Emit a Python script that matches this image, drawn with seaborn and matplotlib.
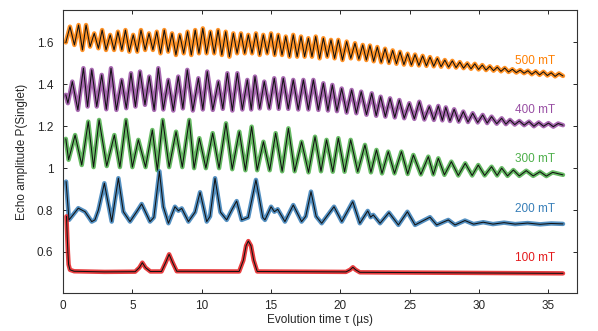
import matplotlib
matplotlib.use("Agg")
import matplotlib.pyplot as plt
import matplotlib.ticker as mticker
import seaborn as sns
import pandas as pd

# Extrema (time in us, echo amplitude)
t_500 = [0.2, 0.5, 0.82, 1.12, 1.4, 1.66, 1.95, 2.25, 2.55, 2.82, 3.1, 3.4, 3.68, 3.96, 4.24, 4.5,
         4.78, 5.06, 5.35, 5.62, 5.92, 6.2, 6.48, 6.76, 7.03, 7.3, 7.58, 7.86, 8.14, 8.42, 8.7, 8.98,
         9.25, 9.53, 9.8, 10.08, 10.35, 10.63, 10.9, 11.18, 11.45, 11.73, 12.0, 12.28, 12.55, 12.83,
         13.1, 13.36, 13.63, 13.91, 14.18, 14.44, 14.72, 15.0, 15.26, 15.52, 15.79, 16.06, 16.33,
         16.6, 16.88, 17.16, 17.42, 17.69, 17.95, 18.22, 18.5, 18.77, 19.05, 19.32, 19.58, 19.85,
         20.15, 20.45, 20.75, 21.05, 21.33, 21.61, 21.87, 22.13, 22.4, 22.66, 22.94, 23.22, 23.5,
         23.77, 24.04, 24.3, 24.58, 24.85, 25.12, 25.38, 25.66, 25.93, 26.2, 26.46, 26.73, 26.99,
         27.26, 27.53, 27.8, 28.07, 28.34, 28.61, 28.88, 29.15, 29.42, 29.69, 29.96, 30.23, 30.5,
         30.77, 31.04, 31.31, 31.58, 31.85, 32.12, 32.4, 32.68, 32.96, 33.24, 33.52, 33.8, 34.08,
         34.36, 34.64, 34.92, 35.2, 35.48, 35.76, 36.05]
p_500 = [1.600, 1.675, 1.588, 1.683, 1.564, 1.683, 1.580, 1.643, 1.572, 1.659, 1.564, 1.636, 1.564,
         1.651, 1.564, 1.659, 1.556, 1.636, 1.556, 1.659, 1.564, 1.643, 1.564, 1.651, 1.548, 1.659,
         1.556, 1.643, 1.540, 1.636, 1.548, 1.651, 1.540, 1.659, 1.548, 1.667, 1.548, 1.651, 1.548,
         1.659, 1.540, 1.651, 1.532, 1.643, 1.548, 1.643, 1.548, 1.636, 1.548, 1.643, 1.540, 1.636,
         1.548, 1.643, 1.540, 1.636, 1.540, 1.628, 1.532, 1.636, 1.532, 1.628, 1.532, 1.620, 1.532,
         1.628, 1.524, 1.620, 1.532, 1.612, 1.524, 1.612, 1.516, 1.604, 1.524, 1.596, 1.520, 1.588,
         1.516, 1.585, 1.510, 1.578, 1.505, 1.570, 1.502, 1.562, 1.498, 1.555, 1.494, 1.546, 1.492,
         1.542, 1.490, 1.536, 1.488, 1.530, 1.486, 1.524, 1.484, 1.516, 1.482, 1.512, 1.480, 1.506,
         1.477, 1.500, 1.474, 1.498, 1.471, 1.492, 1.468, 1.486, 1.465, 1.482, 1.462, 1.478, 1.459,
         1.472, 1.456, 1.468, 1.453, 1.465, 1.448, 1.462, 1.445, 1.460, 1.442, 1.455, 1.438, 1.452,
         1.440]

t_400 = [0.2, 0.35, 0.67, 1.07, 1.47, 1.77, 2.07, 2.43, 2.79, 3.12, 3.46, 3.85, 4.23, 4.56, 4.9,
         5.22, 5.55, 5.91, 6.22, 6.57, 6.87, 7.23, 7.59, 7.95, 8.31, 8.64, 8.96, 9.36, 9.76, 10.08,
         10.4, 10.8, 11.2, 11.52, 11.85, 12.21, 12.57, 12.93, 13.29, 13.57, 13.84, 14.18, 14.51,
         14.87, 15.23, 15.55, 15.88, 16.24, 16.6, 16.96, 17.33, 17.69, 18.05, 18.41, 18.77, 19.1,
         19.42, 19.75, 20.09, 20.45, 20.81, 21.15, 21.5, 21.88, 22.26, 22.58, 22.9, 23.24, 23.58,
         23.92, 24.25, 24.6, 24.97, 25.33, 25.69, 26.05, 26.41, 26.74, 27.06, 27.35, 27.6, 27.9,
         28.2, 28.53, 28.86, 29.2, 29.54, 29.9, 30.26, 30.58, 30.9, 31.27, 31.63, 31.93, 32.23,
         32.57, 32.9, 33.25, 33.6, 33.95, 34.3, 34.65, 35.0, 35.35, 35.7, 36.05]
p_400 = [1.350, 1.310, 1.413, 1.278, 1.477, 1.294, 1.469, 1.294, 1.445, 1.281, 1.477, 1.278, 1.421,
         1.286, 1.453, 1.294, 1.461, 1.302, 1.437, 1.278, 1.477, 1.280, 1.421, 1.275, 1.437, 1.285,
         1.469, 1.275, 1.429, 1.280, 1.461, 1.278, 1.413, 1.283, 1.453, 1.275, 1.453, 1.280, 1.421,
         1.280, 1.437, 1.285, 1.413, 1.285, 1.429, 1.283, 1.429, 1.283, 1.421, 1.280, 1.421, 1.280,
         1.421, 1.278, 1.405, 1.275, 1.397, 1.272, 1.380, 1.265, 1.373, 1.262, 1.365, 1.255, 1.357,
         1.250, 1.341, 1.246, 1.333, 1.242, 1.325, 1.238, 1.310, 1.235, 1.317, 1.232, 1.294, 1.230,
         1.297, 1.228, 1.290, 1.225, 1.281, 1.222, 1.270, 1.220, 1.262, 1.218, 1.254, 1.215, 1.246,
         1.212, 1.238, 1.210, 1.230, 1.208, 1.225, 1.205, 1.222, 1.200, 1.218, 1.200, 1.215, 1.198,
         1.213, 1.205]

t_300 = [0.2, 0.4, 0.87, 1.35, 1.82, 2.2, 2.6, 3.15, 3.7, 4.1, 4.54, 5.0, 5.43, 5.95, 6.44, 6.8,
         7.19, 7.65, 8.15, 8.6, 9.1, 9.45, 9.83, 10.3, 10.79, 11.25, 11.75, 12.2, 12.71, 13.15, 13.6,
         14.0, 14.45, 14.9, 15.33, 15.8, 16.25, 16.7, 17.2, 17.7, 18.17, 18.6, 19.0, 19.45, 19.85,
         20.3, 20.74, 21.25, 21.77, 22.2, 22.6, 23.0, 23.45, 23.9, 24.4, 24.85, 25.26, 25.8, 26.34,
         26.7, 27.06, 27.5, 28.0, 28.5, 29.0, 29.5, 29.94, 30.4, 30.9, 31.3, 31.63, 32.05, 32.47,
         32.9, 33.4, 33.9, 34.39, 34.85, 35.3, 36.05]
p_300 = [1.140, 1.040, 1.158, 1.015, 1.222, 1.005, 1.230, 1.010, 1.158, 1.005, 1.230, 1.005, 1.135,
         1.005, 1.182, 0.990, 1.230, 1.005, 1.174, 1.005, 1.230, 1.000, 1.143, 1.000, 1.167, 1.000,
         1.214, 0.995, 1.174, 0.990, 1.198, 0.990, 1.126, 0.990, 1.167, 0.985, 1.190, 0.985, 1.126,
         0.980, 1.150, 0.985, 1.135, 0.983, 1.143, 0.983, 1.135, 0.983, 1.111, 0.980, 1.087, 0.975,
         1.079, 0.975, 1.079, 0.972, 1.063, 0.970, 1.055, 0.970, 1.047, 0.968, 1.031, 0.965, 1.023,
         0.965, 1.015, 0.965, 1.007, 0.965, 1.000, 0.963, 0.991, 0.963, 0.988, 0.963, 0.983, 0.962,
         0.980, 0.968]

t_200 = [0.22, 0.43, 1.1, 1.59, 2.07, 2.3, 2.55, 2.98, 3.51, 3.99, 4.35, 4.83, 5.31, 5.67, 6.27,
         6.55, 6.95, 7.23, 7.6, 8.07, 8.32, 8.56, 9.04, 9.52, 9.88, 10.36, 10.6, 10.96, 11.35, 11.8,
         12.16, 12.52, 12.88, 13.35, 13.91, 14.4, 14.56, 15.0, 15.24, 15.48, 16.0, 16.6, 17.2, 17.5,
         17.88, 18.25, 18.65, 19.54, 20.1, 20.89, 21.4, 21.97, 22.18, 22.37, 22.86, 23.5, 24.18,
         24.83, 25.38, 26.46, 26.94, 27.78, 28.26, 28.98, 29.6, 30.3, 31.0, 31.8, 32.6, 33.5, 34.4,
         35.2, 36.05]
p_200 = [0.936, 0.753, 0.809, 0.792, 0.745, 0.753, 0.800, 0.928, 0.745, 0.952, 0.792, 0.745, 0.792,
         0.829, 0.745, 0.765, 0.985, 0.816, 0.737, 0.816, 0.797, 0.808, 0.745, 0.790, 0.885, 0.745,
         0.770, 0.952, 0.790, 0.753, 0.800, 0.843, 0.753, 0.765, 0.944, 0.765, 0.753, 0.816, 0.792,
         0.804, 0.745, 0.824, 0.745, 0.770, 0.888, 0.770, 0.737, 0.816, 0.745, 0.840, 0.737, 0.796,
         0.766, 0.777, 0.737, 0.788, 0.729, 0.792, 0.729, 0.766, 0.729, 0.753, 0.729, 0.750, 0.733,
         0.742, 0.733, 0.740, 0.733, 0.738, 0.732, 0.736, 0.734]

t_100 = [0.25, 0.3, 0.35, 0.4, 0.5, 0.8, 3.0, 5.2, 5.5, 5.72, 5.95, 6.3, 7.1, 7.4, 7.65, 7.9, 8.2,
         12.7, 13.0, 13.2, 13.36, 13.55, 13.75, 14.0, 20.4, 20.7, 20.9, 21.1, 21.4, 30.0, 36.05]
p_100 = [0.770, 0.680, 0.600, 0.540, 0.515, 0.508, 0.505, 0.506, 0.525, 0.549, 0.525, 0.507, 0.507,
         0.550, 0.589, 0.550, 0.508, 0.507, 0.560, 0.630, 0.652, 0.630, 0.560, 0.507, 0.505, 0.515,
         0.527, 0.515, 0.503, 0.500, 0.498]

fields = ["500 mT", "400 mT", "300 mT", "200 mT", "100 mT"]
label_y = [1.512, 1.278, 1.044, 0.805, 0.571]

series = {"500 mT": (t_500, p_500), "400 mT": (t_400, p_400), "300 mT": (t_300, p_300),
          "200 mT": (t_200, p_200), "100 mT": (t_100, p_100)}
df = pd.concat([pd.DataFrame({"t": t, "P": p, "field": f}) for f, (t, p) in series.items()],
               ignore_index=True)

sns.set_theme(style="ticks")
plt.rcParams["font.family"] = ["Liberation Sans", "DejaVu Sans"]
plt.rcParams["xtick.direction"] = "in"
plt.rcParams["ytick.direction"] = "in"

# Set1 palette: red, blue, green, purple, orange
set1 = sns.color_palette("Set1")
colors = {"100 mT": set1[0], "200 mT": set1[1], "300 mT": set1[2],
          "400 mT": set1[3], "500 mT": set1[4]}

fig = plt.figure(figsize=(5.98, 3.31), dpi=100)
ax = fig.add_axes([0.1054, 0.114, 0.8595, 0.856])

# data (coloured halo) and fit (thin black line)
sns.lineplot(data=df, x="t", y="P", hue="field", palette=colors, estimator=None, sort=False,
             lw=3.2, alpha=0.85, legend=False, ax=ax)
sns.lineplot(data=df, x="t", y="P", units="field", color="#111111", estimator=None, sort=False,
             lw=0.75, legend=False, ax=ax)

for f, y in zip(fields, label_y):
    ax.text(35.5, y, f, color=colors[f], fontsize=8.5, ha="right", va="center")

ax.set_xlim(0, 37.06)
ax.set_ylim(0.403, 1.755)
ax.set_xticks(range(0, 36, 5))
ax.set_yticks([0.6, 0.8, 1.0, 1.2, 1.4, 1.6])
ax.yaxis.set_major_formatter(mticker.FormatStrFormatter("%g"))
ax.tick_params(top=True, right=True, labelsize=8.5, length=3, width=0.7)
ax.tick_params(axis="y", pad=7)
ax.tick_params(axis="x", pad=5)
for s in ax.spines.values():
    s.set_linewidth(0.8)
    s.set_color("#333333")
ax.set_xlabel("Evolution time τ (µs)", fontsize=8.5, labelpad=1)
ax.set_ylabel("Echo amplitude P(Singlet)", fontsize=8.5, labelpad=6)

fig.savefig("out.png", dpi=100)
